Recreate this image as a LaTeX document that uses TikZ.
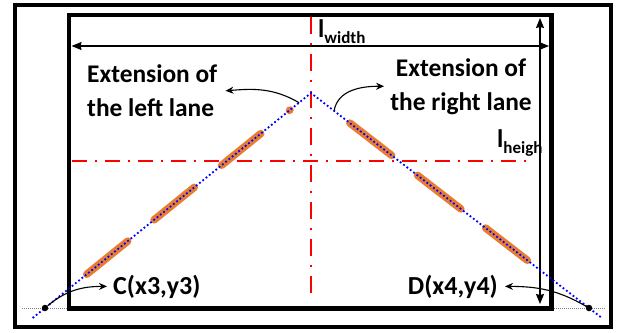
\documentclass[tikz,border=0pt]{standalone}
\usepackage{fontspec}
\setmainfont{Carlito}
\usetikzlibrary{arrows.meta, calc}

\definecolor{laneorange}{RGB}{232,125,50}
\newcommand{\lsub}[1]{l\raisebox{-6pt}{\fontsize{17}{17}\selectfont #1}}

\begin{document}
\begin{tikzpicture}[
        x=1pt, y=-1pt,
        % Style for the two frames
        frame/.style={draw=black, line width=4.5pt},
        % Style for the red centre lines (dash-dot)
        axis/.style={draw=red, line width=2.3pt},
        % Style for the dimension arrows
        dim/.style={line width=1.2pt,
            {Stealth[length=10pt, width=8pt, inset=1pt]}-{Stealth[length=10pt, width=8pt, inset=1pt]}},
        % Lane extension (blue dots) and lane marks (orange)
        lane/.style={draw=blue, line width=1.8pt, dash pattern=on 1.8pt off 2.4pt},
        lanemark/.style={draw=laneorange, line width=7.5pt, line cap=round},
        % Ground line through the end points
        ground/.style={draw=gray, line width=0.6pt, dash pattern=on 1pt off 1pt},
        % End points
        pt/.style={circle, fill=black, inner sep=0pt, minimum size=6.5pt},
        % Curved pointer arrows
        curv/.style={line width=1.1pt, -{Stealth[length=8pt, width=7pt]}},
        % Text
        txt/.style={font=\bfseries\fontsize{25.4}{34}\selectfont, inner sep=0pt},
        ptlabel/.style={font=\bfseries\fontsize{26}{30}\selectfont, inner sep=0pt}
    ]

        \useasboundingbox (0,0) rectangle (618,332);

        % 1. Frames
        \draw[frame] (15,5) rectangle (611,327);
        \draw[frame] (69,15) rectangle (551.5,308.5);

        % 2. Centre lines
        \draw[axis, dash pattern=on 17pt off 9pt on 2pt off 9pt] (311,17) -- (311,295);
        \draw[axis, dash pattern=on 15pt off 8pt on 2pt off 8pt] (72,161) -- (530,161);

        % 3. Dimension arrows
        \coordinate (wl) at (71.5,46);
        \coordinate (wr) at (549,46);
        \coordinate (ht) at (540,18);
        \coordinate (hb) at (540,304);
        \draw[dim] (wl) -- (wr);
        \draw[dim] (ht) -- (hb);
        \node[txt, anchor=base west] (lw) at (318,37) {\lsub{width}};
        \node[txt, anchor=base west] (lh) at (497,147) {\lsub{heigh}};

        % 4. Lanes
        \coordinate (apex) at (311,93);
        \coordinate (c3) at (45,308);
        \coordinate (d4) at (589,308);
        \draw[ground] (22,308) -- (67,308);
        \draw[ground] (554,308) -- (606,308);
        \foreach \a/\b in {0.079/0.081, 0.189/0.336, 0.439/0.590, 0.689/0.843}
            \draw[lanemark] ($(apex)!\a!(c3)$) -- ($(apex)!\b!(c3)$);
        \foreach \a/\b in {0.140/0.290, 0.383/0.539, 0.628/0.778}
            \draw[lanemark] ($(apex)!\a!(d4)$) -- ($(apex)!\b!(d4)$);
        \draw[lane] ($(apex)!1.0465!(c3)$) -- (apex) -- ($(apex)!1.0465!(d4)$);
        \node[pt] (C) at (c3) {};
        \node[pt] (D) at (d4) {};

        % 5. Labels (base = last line)
        \node[txt, align=left, anchor=base west] (extL) at (87,116.7) {Extension of\\the left lane};
        \node[txt, align=center, anchor=base] (extR) at (461,110) {Extension of\\the right lane};
        \node[ptlabel, anchor=base west] (lblC) at (113,294) {C(x3,y3)};
        \node[ptlabel, anchor=base east] (lblD) at (498,294) {D(x4,y4)};

        % 6. Pointer arrows
        \draw[curv] ($(apex)!0.045!(c3)$) to[out=150, in=5] ([xshift=8pt]extL.east);
        \draw[curv] ($(apex)!0.083!(d4)$) to[out=80, in=180] ([xshift=-6pt]extR.west);
        \draw[curv] (C) to[out=40, in=180] ([xshift=-6pt]lblC.west);
        \draw[curv] (D) to[out=150, in=0] ([xshift=7pt]lblD.east);

\end{tikzpicture}
\end{document}
